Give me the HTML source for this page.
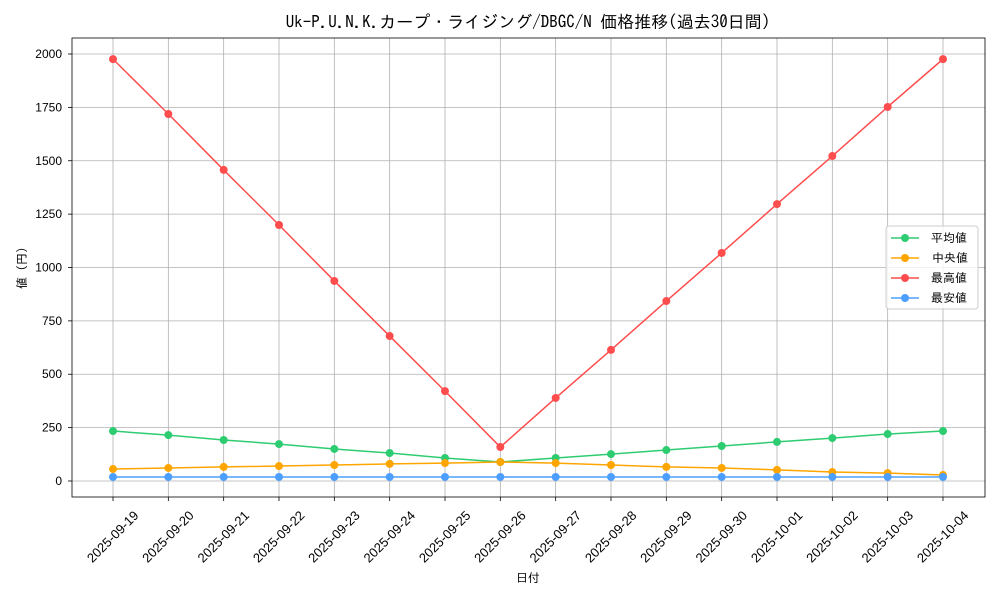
<!DOCTYPE html><html><head><meta charset="utf-8"><style>body{margin:0;background:#fff}svg{font-family:"IPAGothic","Liberation Sans",sans-serif}.n{font-family:"Liberation Sans",sans-serif}</style></head><body>
<svg id="s" width="1000" height="600" xmlns="http://www.w3.org/2000/svg">
<rect width="1000" height="600" fill="#fff"/>
<g id="grid" stroke="#b0b0b0" stroke-width="0.8"></g>
<rect x="72" y="38" width="913" height="459" fill="none" stroke="#000" stroke-width="0.8"/>
<g id="ticks" stroke="#000" stroke-width="0.8"></g>
<g class="n" font-size="12" text-anchor="end" fill="#000">
<text x="62" y="485">0</text><text x="62" y="431.6">250</text><text x="62" y="378.2">500</text><text x="62" y="324.9">750</text><text x="62" y="271.5">1000</text><text x="62" y="218.1">1250</text><text x="62" y="164.8">1500</text><text x="62" y="111.4">1750</text><text x="62" y="58">2000</text>
</g>
<g class="n" font-size="13" text-anchor="middle">
<text transform="translate(113,537) rotate(-45)" dy="4">2025-09-19</text>
<text transform="translate(168.3,537) rotate(-45)" dy="4">2025-09-20</text>
<text transform="translate(223.7,537) rotate(-45)" dy="4">2025-09-21</text>
<text transform="translate(279,537) rotate(-45)" dy="4">2025-09-22</text>
<text transform="translate(334.3,537) rotate(-45)" dy="4">2025-09-23</text>
<text transform="translate(389.7,537) rotate(-45)" dy="4">2025-09-24</text>
<text transform="translate(445,537) rotate(-45)" dy="4">2025-09-25</text>
<text transform="translate(500.3,537) rotate(-45)" dy="4">2025-09-26</text>
<text transform="translate(555.7,537) rotate(-45)" dy="4">2025-09-27</text>
<text transform="translate(611,537) rotate(-45)" dy="4">2025-09-28</text>
<text transform="translate(666.3,537) rotate(-45)" dy="4">2025-09-29</text>
<text transform="translate(721.7,537) rotate(-45)" dy="4">2025-09-30</text>
<text transform="translate(777,537) rotate(-45)" dy="4">2025-10-01</text>
<text transform="translate(832.3,537) rotate(-45)" dy="4">2025-10-02</text>
<text transform="translate(887.7,537) rotate(-45)" dy="4">2025-10-03</text>
<text transform="translate(943,537) rotate(-45)" dy="4">2025-10-04</text>
</g>
<text x="528" y="582" font-size="12" text-anchor="middle">日付</text>
<text transform="translate(26,268) rotate(-90)" font-size="12" text-anchor="middle">値 (円)</text>
<text x="528" y="28" font-size="17" text-anchor="middle">Uk-P.U.N.K.カープ・ライジング/DBGC/N 価格推移(過去30日間)</text>
<g id="series"></g>
<rect x="886" y="226" width="92" height="83" rx="3" fill="#fff" fill-opacity="0.8" stroke="#ccc"/>
<g font-size="12">
<line x1="891" y1="238" x2="919" y2="238" stroke="#2ecc71" stroke-width="1.5"/><circle cx="905" cy="238" r="4" fill="#2ecc71"/><text x="931" y="242">平均値</text>
<line x1="891" y1="258" x2="919" y2="258" stroke="#ffa500" stroke-width="1.5"/><circle cx="905" cy="258" r="4" fill="#ffa500"/><text x="932" y="262">中央値</text>
<line x1="891" y1="278" x2="919" y2="278" stroke="#ff4d4d" stroke-width="1.5"/><circle cx="905" cy="278" r="4" fill="#ff4d4d"/><text x="931" y="282">最高値</text>
<line x1="891" y1="298" x2="919" y2="298" stroke="#4d9fff" stroke-width="1.5"/><circle cx="905" cy="298" r="4" fill="#4d9fff"/><text x="931" y="302">最安値</text>
</g>
</svg>
<script>
var ns="http://www.w3.org/2000/svg";
function el(p,t,a){var e=document.createElementNS(ns,t);for(var k in a)e.setAttribute(k,a[k]);p.appendChild(e);return e}
var X=[],i;for(i=0;i<16;i++)X.push(113+55.333*i);
var Y=function(v){return 481-v*0.2135};
var g=document.getElementById('grid'),tk=document.getElementById('ticks');
X.forEach(function(x){el(g,'line',{x1:x,x2:x,y1:38,y2:497});el(tk,'line',{x1:x,x2:x,y1:497,y2:501})});
for(i=0;i<=8;i++){var y=Y(i*250);el(g,'line',{x1:72,x2:985,y1:y,y2:y});el(tk,'line',{x1:68,x2:72,y1:y,y2:y})}
var S=[
["#2ecc71",[234,215,192,173,150,131,108,89,108,126,145,164,183,201,220,234]],
["#ffa500",[56,61,66,70,75,80,84,89,84,75,66,61,52,42,37,28]],
["#ff4d4d",[1976,1719,1457,1199,937,679,421,159,389,614,843,1068,1297,1522,1752,1976]],
["#4d9fff",[19,19,19,19,19,19,19,19,19,19,19,19,19,19,19,19]]];
var sg=document.getElementById('series');
S.forEach(function(s){var pts=s[1].map(function(v,j){return X[j]+','+Y(v)}).join(' ');
el(sg,'polyline',{points:pts,fill:'none',stroke:s[0],'stroke-width':1.5});
s[1].forEach(function(v,j){el(sg,'circle',{cx:X[j],cy:Y(v),r:4,fill:s[0]})})});
</script>
</body></html>
